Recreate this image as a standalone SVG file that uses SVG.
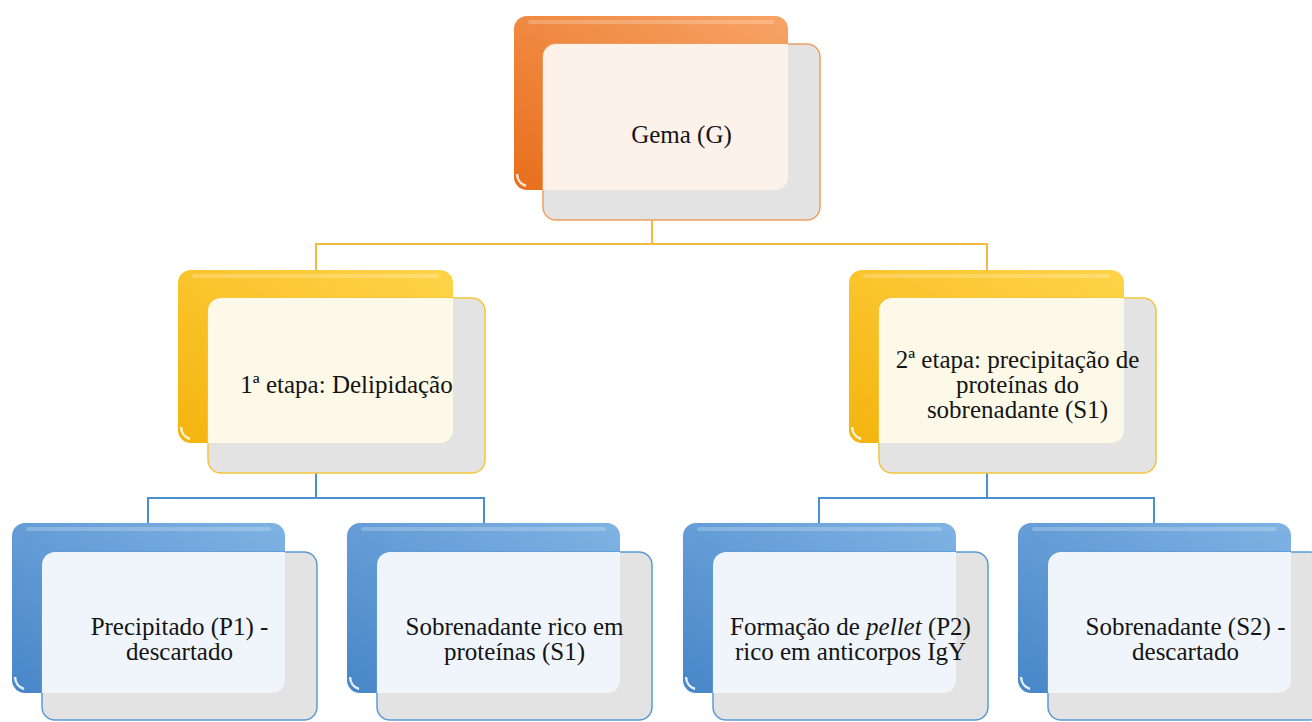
<svg xmlns="http://www.w3.org/2000/svg" width="1312" height="722" viewBox="0 0 1312 722">
<style>
.t{font-family:"Liberation Serif","Times New Roman",serif;font-size:25px;fill:#141414;text-anchor:middle}
.gray{fill:#e3e3e3;stroke-width:1.5}
.go{fill:url(#gOr)} .gy{fill:url(#gYe)} .gb{fill:url(#gBl)}
.so{stroke:#f0a060} .sy{stroke:#f3c63c} .sb{stroke:#5b9bd5}
.co{fill:#fdf2ea} .cy{fill:#fdf9e8} .cb{fill:#eff5fb}
.gloss{fill:#ffffff;opacity:0.22}
.glint{fill:none;stroke:#ffffff;stroke-width:2.5;opacity:0.85}
.cn{fill:none;stroke-width:2}
.cno{stroke:#f5b840} .cnb{stroke:#4a8fd0} .cnw{stroke:#f6f6f6}
</style>
<defs>
<linearGradient id="gOr" x1="1" y1="0" x2="0" y2="1"><stop offset="0" stop-color="#f7a466"/><stop offset="1" stop-color="#e86e1c"/></linearGradient>
<linearGradient id="gYe" x1="1" y1="0" x2="0" y2="1"><stop offset="0" stop-color="#ffd44a"/><stop offset="1" stop-color="#f4b40e"/></linearGradient>
<linearGradient id="gBl" x1="1" y1="0" x2="0" y2="1"><stop offset="0" stop-color="#80b3e4"/><stop offset="1" stop-color="#4886c8"/></linearGradient>
</defs>

<g id="connectors">
<path class="cn cnw" d="M652,190 V220"/>
<path class="cn cno" d="M652,220 V244 M316,270 V244 H987 V270"/>
<path class="cn cnw" d="M316,444 V473 M987,444 V473"/>
<path class="cn cnb" d="M316,473 V498 M148,523 V498 H484 V523"/>
<path class="cn cnb" d="M987,473 V498 M819,523 V498 H1154 V523"/>
</g>

<g id="node-gema" transform="translate(514,16)">
<rect class="go" x="0" y="0" width="274" height="174" rx="13"/>
<rect class="gloss" x="14" y="4" width="246" height="4" rx="2"/>
<path class="glint" d="M3,158 a13,13 0 0 0 9,12"/>
<rect class="gray so" x="29" y="28" width="277" height="176" rx="13"/>
<path class="co" d="M29,41 a13,13 0 0 1 13,-13 H274 V161 a13,13 0 0 1 -13,13 H29 Z"/>
<text class="t" x="167.5" y="127">Gema (G)</text>
</g>

<g id="node-etapa1" transform="translate(178,270)">
<rect class="gy" x="0" y="0" width="275" height="173" rx="13"/>
<rect class="gloss" x="14" y="4" width="247" height="4" rx="2"/>
<path class="glint" d="M3,157 a13,13 0 0 0 9,12"/>
<rect class="gray sy" x="30" y="28" width="277" height="175" rx="13"/>
<path class="cy" d="M30,41 a13,13 0 0 1 13,-13 H275 V160 a13,13 0 0 1 -13,13 H30 Z"/>
<text class="t" x="168.5" y="123">1ª etapa: Delipidação</text>
</g>

<g id="node-etapa2" transform="translate(849,270)">
<rect class="gy" x="0" y="0" width="275" height="173" rx="13"/>
<rect class="gloss" x="14" y="4" width="247" height="4" rx="2"/>
<path class="glint" d="M3,157 a13,13 0 0 0 9,12"/>
<rect class="gray sy" x="30" y="28" width="277" height="175" rx="13"/>
<path class="cy" d="M30,41 a13,13 0 0 1 13,-13 H275 V160 a13,13 0 0 1 -13,13 H30 Z"/>
<text class="t" x="168.5" y="98">2ª etapa: precipitação de</text>
<text class="t" x="168.5" y="123">proteínas do</text>
<text class="t" x="168.5" y="148">sobrenadante (S1)</text>
</g>

<g id="node-p1" transform="translate(12,523)">
<rect class="gb" x="0" y="0" width="273" height="170" rx="13"/>
<rect class="gloss" x="14" y="4" width="245" height="4" rx="2"/>
<path class="glint" d="M3,154 a13,13 0 0 0 9,12"/>
<rect class="gray sb" x="30" y="29" width="275" height="168" rx="13"/>
<path class="cb" d="M30,42 a13,13 0 0 1 13,-13 H273 V157 a13,13 0 0 1 -13,13 H30 Z"/>
<text class="t" x="167.5" y="112">Precipitado (P1) -</text>
<text class="t" x="167.5" y="137">descartado</text>
</g>

<g id="node-s1" transform="translate(347,523)">
<rect class="gb" x="0" y="0" width="273" height="170" rx="13"/>
<rect class="gloss" x="14" y="4" width="245" height="4" rx="2"/>
<path class="glint" d="M3,154 a13,13 0 0 0 9,12"/>
<rect class="gray sb" x="30" y="29" width="275" height="168" rx="13"/>
<path class="cb" d="M30,42 a13,13 0 0 1 13,-13 H273 V157 a13,13 0 0 1 -13,13 H30 Z"/>
<text class="t" x="167.5" y="112">Sobrenadante rico em</text>
<text class="t" x="167.5" y="137">proteínas (S1)</text>
</g>

<g id="node-p2" transform="translate(683,523)">
<rect class="gb" x="0" y="0" width="273" height="170" rx="13"/>
<rect class="gloss" x="14" y="4" width="245" height="4" rx="2"/>
<path class="glint" d="M3,154 a13,13 0 0 0 9,12"/>
<rect class="gray sb" x="30" y="29" width="275" height="168" rx="13"/>
<path class="cb" d="M30,42 a13,13 0 0 1 13,-13 H273 V157 a13,13 0 0 1 -13,13 H30 Z"/>
<text class="t" x="167.5" y="112">Formação de <tspan font-style="italic">pellet</tspan> (P2)</text>
<text class="t" x="167.5" y="137">rico em anticorpos IgY</text>
</g>

<g id="node-s2" transform="translate(1018,523)">
<rect class="gb" x="0" y="0" width="273" height="170" rx="13"/>
<rect class="gloss" x="14" y="4" width="245" height="4" rx="2"/>
<path class="glint" d="M3,154 a13,13 0 0 0 9,12"/>
<rect class="gray sb" x="30" y="29" width="275" height="168" rx="13"/>
<path class="cb" d="M30,42 a13,13 0 0 1 13,-13 H273 V157 a13,13 0 0 1 -13,13 H30 Z"/>
<text class="t" x="167.5" y="112">Sobrenadante (S2) -</text>
<text class="t" x="167.5" y="137">descartado</text>
</g>
</svg>
